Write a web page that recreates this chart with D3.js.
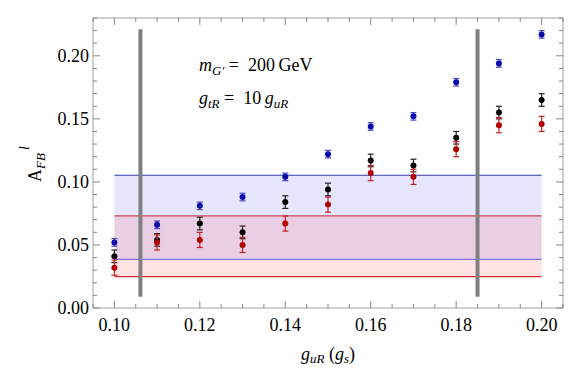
<!DOCTYPE html>
<html>
<head>
<meta charset="utf-8">
<script src="https://cdn.jsdelivr.net/npm/d3@7"></script>
<style>
	body { margin: 0; background: #fff; }
</style>
</head>
<body>
<div id="chart"></div>
<script>
// Coupling values on the x axis
var couplings = [0.10, 0.11, 0.12, 0.13, 0.14, 0.15, 0.16, 0.17, 0.18, 0.19, 0.20];
// Asymmetry for each series, with its error
var blueValues = [0.052, 0.066, 0.081, 0.088, 0.104, 0.122, 0.144, 0.152, 0.179, 0.194, 0.217];
var blueErrors = [0.003, 0.003, 0.003, 0.003, 0.003, 0.003, 0.003, 0.003, 0.003, 0.003, 0.003];
var blackValues = [0.041, 0.054, 0.067, 0.060, 0.084, 0.094, 0.117, 0.113, 0.135, 0.155, 0.165];
var blackErrors = [0.005, 0.005, 0.005, 0.005, 0.005, 0.005, 0.005, 0.005, 0.005, 0.005, 0.005];
var redValues = [0.032, 0.052, 0.054, 0.050, 0.067, 0.082, 0.107, 0.104, 0.126, 0.145, 0.146];
var redErrors = [0.006, 0.006, 0.006, 0.006, 0.006, 0.006, 0.006, 0.006, 0.006, 0.006, 0.006];
// Measured bands (low, high) and the excluded coupling limits
var blueBand = [0.0386, 0.1053];
var redBand = [0.0249, 0.0730];
var limits = [0.1061, 0.1850];
var xTicks = [0.10, 0.12, 0.14, 0.16, 0.18, 0.20];
var yTicks = [0.00, 0.05, 0.10, 0.15, 0.20];

draw();

/** Draws the whole chart */
function draw() {
	var width = 581, height = 382;
	var left = 93, right = 563, top = 18, bottom = 308;
	var serif = '"Liberation Serif", "Times New Roman", serif';

	var svg = d3.select('#chart').append('svg')
		.attr('width', width).attr('height', height)
		.attr('font-family', serif);

	var x = d3.scaleLinear().domain([0.095, 0.205]).range([left, right]);
	var y = d3.scaleLinear().domain([0, 0.23]).range([bottom, top]);

	// Bands
	function band(range, fill) {
		svg.append('rect')
			.attr('x', x(0.10)).attr('width', x(0.20) - x(0.10))
			.attr('y', y(range[1])).attr('height', y(range[0]) - y(range[1]))
			.style('fill', fill);
	}
	band(blueBand, 'rgba(128,128,255,0.2)');
	band(redBand, 'rgba(255,100,100,0.18)');
	// Band edges
	[[blueBand[1], '#3a3ab0'], [redBand[1], '#cc4455'], [blueBand[0], '#7a72d4'], [redBand[0], '#d03030']]
		.forEach(function(d) {
			svg.append('line')
				.attr('x1', x(0.10)).attr('x2', x(0.20))
				.attr('y1', y(d[0])).attr('y2', y(d[0]))
				.style('stroke', d[1]).style('stroke-width', 1.2);
		});

	// Vertical limit lines
	svg.selectAll('line.limit').data(limits).enter().append('line')
		.attr('class', 'limit')
		.attr('x1', d => x(d)).attr('x2', d => x(d))
		.attr('y1', y(0.221)).attr('y2', y(0.009))
		.style('stroke', '#808080').style('stroke-width', 4);

	// Frame and ticks (inward, on all sides)
	svg.append('rect')
		.attr('x', left).attr('y', top).attr('width', right - left).attr('height', bottom - top)
		.style('fill', 'none').style('stroke', '#a0a0a0').style('stroke-width', 1);

	var xMinor = d3.range(0.095, 0.2051, 0.005);
	var yMinor = d3.range(0, 0.2301, 0.01);
	function tickLen(v, step) { return Math.abs(v / step - Math.round(v / step)) < 1e-6 ? 7 : 4; }
	xMinor.forEach(function(v) {
		var l = tickLen(v, 0.02);
		svg.append('line').attr('x1', x(v)).attr('x2', x(v)).attr('y1', bottom).attr('y2', bottom - l)
			.style('stroke', '#888');
		svg.append('line').attr('x1', x(v)).attr('x2', x(v)).attr('y1', top).attr('y2', top + l)
			.style('stroke', '#888');
	});
	yMinor.forEach(function(v) {
		var l = tickLen(v, 0.05);
		svg.append('line').attr('x1', left).attr('x2', left + l).attr('y1', y(v)).attr('y2', y(v))
			.style('stroke', '#888');
		svg.append('line').attr('x1', right).attr('x2', right - l).attr('y1', y(v)).attr('y2', y(v))
			.style('stroke', '#888');
	});

	// Tick labels
	svg.selectAll('text.xt').data(xTicks).enter().append('text')
		.attr('class', 'xt')
		.attr('x', d => x(d)).attr('y', bottom + 23)
		.attr('text-anchor', 'middle').attr('font-size', 18)
		.text(d => d3.format('.2f')(d));
	svg.selectAll('text.yt').data(yTicks).enter().append('text')
		.attr('class', 'yt')
		.attr('x', left - 4).attr('y', d => y(d) + 6)
		.attr('text-anchor', 'end').attr('font-size', 18)
		.text(d => d3.format('.2f')(d));

	// Axis titles
	var xt = svg.append('text').attr('x', 328).attr('y', 360)
		.attr('text-anchor', 'middle').attr('font-size', 18);
	xt.append('tspan').style('font-style', 'italic').text('g');
	xt.append('tspan').style('font-style', 'italic').attr('font-size', 13).attr('dy', 3).text('uR');
	xt.append('tspan').attr('dy', -3).text(' (');
	xt.append('tspan').style('font-style', 'italic').text('g');
	xt.append('tspan').style('font-style', 'italic').attr('font-size', 13).attr('dy', 3).text('s');
	xt.append('tspan').attr('dy', -3).text(')');

	var yt = svg.append('text').attr('transform', 'translate(41,182) rotate(-90)')
		.attr('font-size', 18);
	yt.append('tspan').text('A');
	yt.append('tspan').style('font-style', 'italic').attr('font-size', 13).attr('dy', 4).text('FB');
	yt.append('tspan').style('font-style', 'italic').attr('font-size', 14).attr('dy', -16).attr('dx', 3).text('l');

	// Annotation
	var a1 = svg.append('text').attr('x', 199).attr('y', 71).attr('font-size', 18)
		.attr('xml:space', 'preserve');
	a1.append('tspan').style('font-style', 'italic').text('m');
	a1.append('tspan').style('font-style', 'italic').attr('font-size', 13).attr('dy', 4).text('G\u2032');
	a1.append('tspan').attr('dy', -4).text(' =  200\u2009GeV');
	var a2 = svg.append('text').attr('x', 199).attr('y', 104).attr('font-size', 18)
		.attr('xml:space', 'preserve');
	a2.append('tspan').style('font-style', 'italic').text('g');
	a2.append('tspan').style('font-style', 'italic').attr('font-size', 13).attr('dy', 4).text('tR');
	a2.append('tspan').attr('dy', -4).text(' =  10\u2009');
	a2.append('tspan').style('font-style', 'italic').text('g');
	a2.append('tspan').style('font-style', 'italic').attr('font-size', 13).attr('dy', 4).text('uR');

	// Data points with error bars
	function series(values, errors, color, barColor) {
		var data = couplings.map((c, i) => ({ c: c, v: values[i], e: errors[i] }));
		var bars = svg.append('g').selectAll('g').data(data).enter().append('g');
		bars.append('line')
			.attr('x1', d => x(d.c)).attr('x2', d => x(d.c))
			.attr('y1', d => y(d.v - d.e)).attr('y2', d => y(d.v + d.e))
			.style('stroke', barColor).style('stroke-width', 1.2);
		[-1, 1].forEach(function(s) {
			bars.append('line')
				.attr('x1', d => x(d.c) - 3).attr('x2', d => x(d.c) + 3)
				.attr('y1', d => y(d.v + s * d.e)).attr('y2', d => y(d.v + s * d.e))
				.style('stroke', barColor).style('stroke-width', 1.2);
		});
		bars.append('circle')
			.attr('cx', d => x(d.c)).attr('cy', d => y(d.v)).attr('r', 3)
			.style('fill', color);
	}
	series(blueValues, blueErrors, '#0a0aa8', '#4a4ad0');
	series(blackValues, blackErrors, '#000', '#222');
	series(redValues, redErrors, '#b00000', '#cc2020');
}
</script>
</body>
</html>
